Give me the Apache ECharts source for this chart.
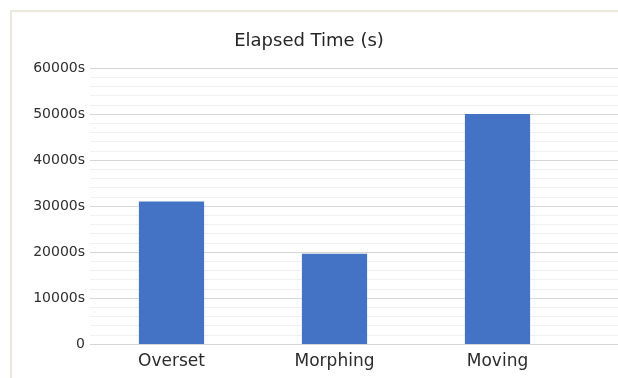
<!DOCTYPE html>
<html>
<head>
<meta charset="utf-8">
<style>
  html, body { margin: 0; padding: 0; background: #ffffff; }
  #chart { width: 618px; height: 378px; }
</style>
<script src="https://cdn.jsdelivr.net/npm/echarts@6/dist/echarts.min.js"></script>
</head>
<body>
<div id="chart"></div>
<script>
// Elapsed time per method, in seconds
const categories = ['Overset', 'Morphing', 'Moving'];
const elapsedSeconds = [31000, 19600, 50000];
const yTicks = [0, 10000, 20000, 30000, 40000, 50000, 60000];

const yMin = yTicks[0];
const yMax = yTicks[yTicks.length - 1];
const yStep = yTicks[1] - yTicks[0];
const fontFamily = '"DejaVu Sans", "Noto Sans", sans-serif';

const chart = echarts.init(document.getElementById('chart'), null, { renderer: 'canvas' });

chart.setOption({
  backgroundColor: '#ffffff',
  animation: false,
  title: {
    text: 'Elapsed Time (s)',
    left: 'center',
    top: 27,
    textStyle: { fontFamily, fontSize: 18, fontWeight: 'normal', color: '#262626' }
  },
  graphic: [
    // light frame along the top and left edges
    { type: 'rect', shape: { x: 10, y: 10, width: 620, height: 2 }, style: { fill: '#ebe7da' } },
    { type: 'rect', shape: { x: 10, y: 10, width: 2, height: 380 }, style: { fill: '#ebe7da' } }
  ],
  grid: [
    // bars and category labels
    { left: 90, right: 39, top: 68, bottom: 34 },
    // gridlines reaching to the right edge, value labels on the left
    { left: 90, right: 0, top: 68, bottom: 34 }
  ],
  xAxis: [
    {
      type: 'category',
      gridIndex: 0,
      data: categories,
      axisLine: { show: false },
      axisTick: { show: false },
      axisLabel: { fontFamily, fontSize: 17, color: '#2b2b2b', margin: 9 }
    },
    { type: 'category', gridIndex: 1, show: false, data: ['a'] }
  ],
  yAxis: [
    {
      type: 'value',
      gridIndex: 0,
      min: yMin, max: yMax, interval: yStep,
      axisLabel: { show: false },
      axisLine: { show: false },
      axisTick: { show: false },
      splitLine: { show: false }
    },
    {
      type: 'value',
      gridIndex: 1,
      min: yMin, max: yMax, interval: yStep,
      axisLine: { show: false },
      axisTick: { show: false },
      axisLabel: {
        fontFamily, fontSize: 14, color: '#2e2e2e', margin: 5,
        formatter: v => (v === 0 ? '0' : v + 's')
      },
      splitLine: { show: true, lineStyle: { color: '#d6d6d6', width: 1 } },
      minorTick: { show: false, splitNumber: 5 },
      minorSplitLine: { show: true, lineStyle: { color: '#f0f0f0', width: 1 } }
    }
  ],
  series: [
    {
      type: 'bar',
      xAxisIndex: 0,
      yAxisIndex: 0,
      data: elapsedSeconds,
      barCategoryGap: '60%',
      itemStyle: { color: '#4472c4' }
    }
  ]
});
</script>
</body>
</html>
